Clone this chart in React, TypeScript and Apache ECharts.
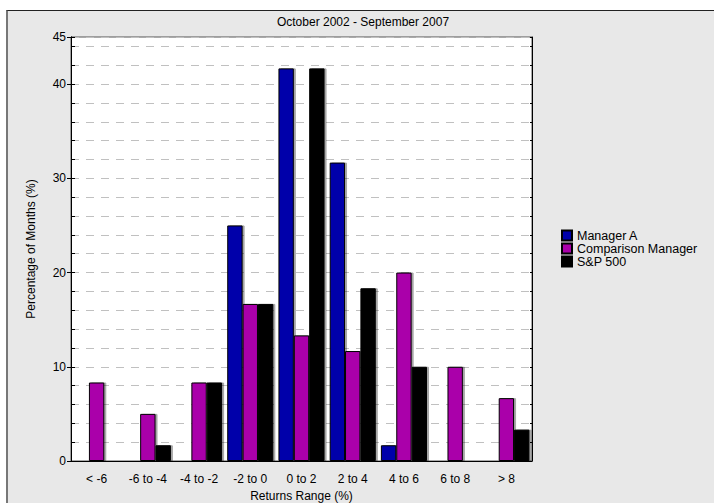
import React, { useEffect, useRef } from "react";
import * as echarts from "echarts";

const title = "October 2002 - September 2007";
const categories = ["< -6", "-6 to -4", "-4 to -2", "-2 to 0", "0 to 2", "2 to 4", "4 to 6", "6 to 8", "> 8"];
const managerA = [0, 0, 0, 25, 41.67, 31.67, 1.67, 0, 0];
const comparisonManager = [8.33, 5, 8.33, 16.67, 13.33, 11.67, 20, 10, 6.67];
const sp500 = [0, 1.67, 8.33, 16.67, 41.67, 18.33, 10, 0, 3.33];
const seriesNames = ["Manager A", "Comparison Manager", "S&P 500"];
const seriesColors = ["#0000AA", "#AA00AA", "#000000"];

const FONT = "'Liberation Sans', Arial, sans-serif";

export default function App() {
  const ref = useRef<HTMLDivElement>(null);
  useEffect(() => {
    if (!ref.current) return;
    const chart = echarts.init(ref.current, null, { renderer: "svg" });
    const data = [managerA, comparisonManager, sp500];
    const option: any = {
      animation: false,
      backgroundColor: "transparent",
      textStyle: { fontFamily: FONT },
      title: {
        text: title,
        left: 358,
        top: 11,
        textAlign: "center",
        textStyle: { fontFamily: FONT, fontSize: 12, fontWeight: "normal", color: "#000" },
      },
      legend: {
        orient: "vertical",
        left: 556,
        top: 224,
        itemWidth: 10,
        itemHeight: 10,
        itemGap: 0,
        icon: "rect",
        data: seriesNames,
        textStyle: { fontFamily: FONT, fontSize: 12.5, color: "#000", lineHeight: 12.5 },
      },
      grid: {
        left: 71,
        right: 182,
        top: 37,
        bottom: 42,
        show: true,
        backgroundColor: "#ffffff",
        borderColor: "#555",
        borderWidth: 1,
        outerBoundsMode: "none",
        containLabel: false,
      },
      xAxis: {
        type: "category",
        data: categories,
        name: "Returns Range (%)",
        nameLocation: "middle",
        nameGap: 28,
        nameTextStyle: { fontFamily: FONT, fontSize: 12, color: "#000" },
        axisLine: { lineStyle: { color: "#000", width: 1 } },
        axisTick: { alignWithLabel: true, length: 6, lineStyle: { color: "#000" } },
        axisLabel: { fontFamily: FONT, fontSize: 12, color: "#000", margin: 12, interval: 0 },
        splitLine: { show: false },
      },
      yAxis: [
        {
          type: "value",
          min: 0,
          max: 45,
          interval: 2,
          position: "left",
          axisLine: { show: true, lineStyle: { color: "#000" } },
          axisTick: { show: true, inside: true, length: 4, lineStyle: { color: "#000" } },
          axisLabel: { show: false },
          splitLine: { show: true, lineStyle: { color: "#c0c0c0", type: [8, 7], width: 1 } },
        },
        {
          type: "value",
          min: 0,
          max: 45,
          interval: 10,
          position: "left",
          name: "Percentage of Months (%)",
          nameLocation: "middle",
          nameRotate: 90,
          nameGap: 34,
          nameTextStyle: { fontFamily: FONT, fontSize: 12, color: "#000" },
          axisLine: { show: true, lineStyle: { color: "#000" } },
          axisTick: { show: true, inside: false, length: 4, lineStyle: { color: "#000" } },
          axisLabel: { fontFamily: FONT, fontSize: 12, color: "#000", margin: 5 },
          splitLine: { show: false },
        },
        {
          type: "value",
          min: 0,
          max: 45,
          interval: 2,
          position: "right",
          axisLine: { show: true, lineStyle: { color: "#000" } },
          axisTick: { show: true, inside: true, length: 2, lineStyle: { color: "#000" } },
          axisLabel: { show: false },
          splitLine: { show: false },
        },
      ],
      series: seriesNames.map((name, i) => ({
        name,
        type: "bar",
        yAxisIndex: 0,
        data: data[i],
        barGap: "0%",
        barCategoryGap: "10%",
        itemStyle: {
          color: seriesColors[i],
          borderColor: "#000",
          borderWidth: 1,
          shadowColor: "rgba(0,0,0,0.35)",
          shadowOffsetX: 2,
          shadowOffsetY: 0,
          shadowBlur: 0,
        },
        emphasis: { disabled: true },
      })),
    };
    chart.setOption(option);
    return () => chart.dispose();
  }, []);

  return (
    <div style={{ position: "fixed", left: 0, top: 0, width: 714, height: 503, background: "#ffffff" }}>
      <div
        style={{
          position: "absolute",
          left: 6,
          top: 10,
          right: 0,
          bottom: 0,
          background: "#e8e8e8",
          borderLeft: "2px solid #777",
          borderTop: "1px solid #222",
        }}
      />
      <div ref={ref} style={{ position: "absolute", left: 0, top: 0, width: 714, height: 503 }} />
    </div>
  );
}
